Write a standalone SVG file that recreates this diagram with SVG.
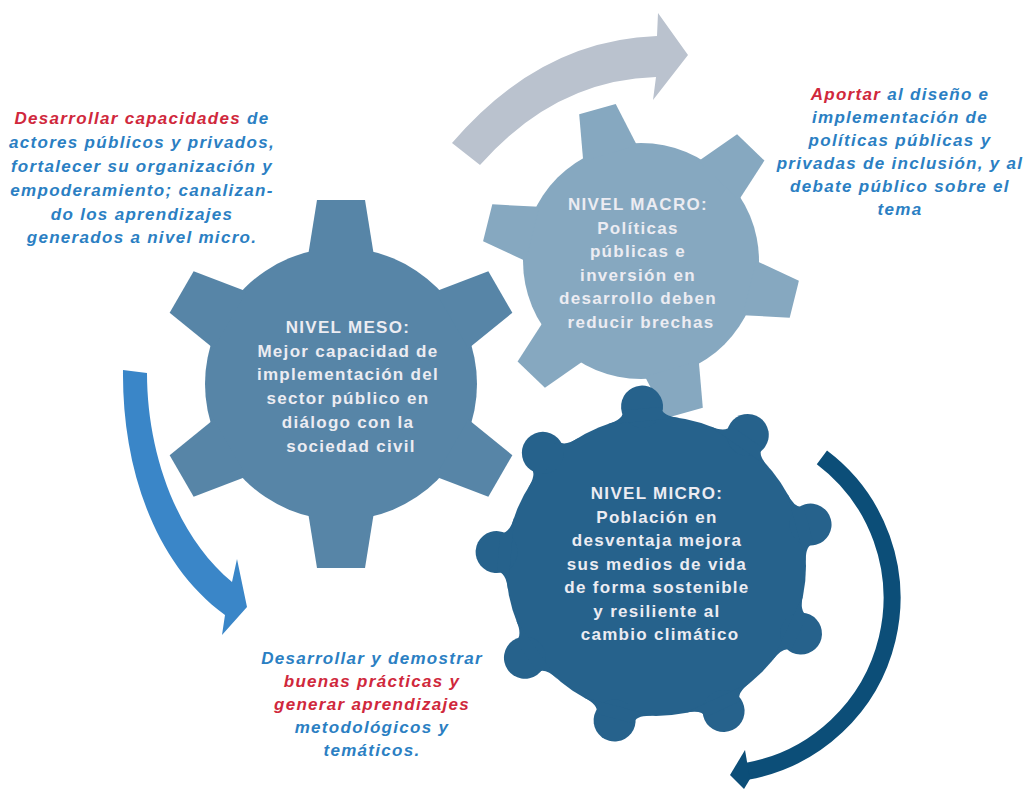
<svg xmlns="http://www.w3.org/2000/svg" xmlns:xlink="http://www.w3.org/1999/xlink" width="1027" height="789" viewBox="0 0 1027 789">
<style>
.gt{font-family:"Liberation Sans",Arial,sans-serif;font-weight:bold;font-size:17px;letter-spacing:1.3px;fill:#ECECF2;text-anchor:middle}
.st{font-family:"Liberation Sans",Arial,sans-serif;font-weight:bold;font-style:italic;font-size:17px;letter-spacing:1.3px;fill:#2B7FC3;text-anchor:middle}
.red{fill:#D0283C}
.meso{fill:#5785A7}
.macro{fill:#86A8C0}
.micro{fill:#26628C}
</style>
<defs>
<polygon id="mesoTooth" points="-24,-184 24,-184 33,-128 -33,-128"/>
<polygon id="macroTooth" points="-19,-158 19,-158 28,-112 -28,-112"/>
<g id="microTooth">
<circle cx="0" cy="-160" r="21"/>
<path d="M-36,-145.5 Q-19,-149 -19,-158 L19,-158 Q19,-149 36,-145.5 Z"/>
</g>
</defs>
<rect width="1027" height="789" fill="#FFFFFF"/>

<g id="connectors">
<path id="arrow-top" fill="#BAC2CE" d="M452,143 Q540,40 657,36 L658,13 L688,55 L653,100 L656,77 Q555,80 480,165 Z"/>
<path id="arrow-left" fill="#3A86C8" d="M123,370 L147,373 C147,450 175,535 232,582 L237,559 L247,607 L222,635 L225,615 C150,560 122,460 123,370 Z"/>
<g id="arrow-right">
<path d="M821.9,457.4 A176,176 0 0 1 746.6,771.3" fill="none" stroke="#0C4E78" stroke-width="17"/>
<polygon points="745,750 730,775 744,789 750,779" fill="#0C4E78"/>
</g>
</g>

<g id="node-macro">
<g class="macro" transform="translate(641,261)">
<circle r="118"/>
<use xlink:href="#macroTooth" href="#macroTooth" transform="rotate(-16)"/>
<use xlink:href="#macroTooth" href="#macroTooth" transform="rotate(44)"/>
<use xlink:href="#macroTooth" href="#macroTooth" transform="rotate(104)"/>
<use xlink:href="#macroTooth" href="#macroTooth" transform="rotate(164)"/>
<use xlink:href="#macroTooth" href="#macroTooth" transform="rotate(224)"/>
<use xlink:href="#macroTooth" href="#macroTooth" transform="rotate(284)"/>
</g>
<text class="gt">
<tspan x="641" y="210">NIVEL MACRO:</tspan>
<tspan x="641" y="233.6">Políticas</tspan>
<tspan x="641" y="257.2">públicas e</tspan>
<tspan x="641" y="280.8">inversión en</tspan>
<tspan x="641" y="304.4">desarrollo deben</tspan>
<tspan x="641" y="328">reducir brechas</tspan>
</text>
</g>

<g id="node-meso">
<g class="meso" transform="translate(341,384)">
<circle r="136"/>
<use xlink:href="#mesoTooth" href="#mesoTooth"/>
<use xlink:href="#mesoTooth" href="#mesoTooth" transform="rotate(60)"/>
<use xlink:href="#mesoTooth" href="#mesoTooth" transform="rotate(120)"/>
<use xlink:href="#mesoTooth" href="#mesoTooth" transform="rotate(180)"/>
<use xlink:href="#mesoTooth" href="#mesoTooth" transform="rotate(240)"/>
<use xlink:href="#mesoTooth" href="#mesoTooth" transform="rotate(300)"/>
</g>
<text class="gt">
<tspan x="351" y="333">NIVEL MESO:</tspan>
<tspan x="351" y="356.7">Mejor capacidad de</tspan>
<tspan x="351" y="380.4">implementación del</tspan>
<tspan x="351" y="404.1">sector público en</tspan>
<tspan x="351" y="427.8">diálogo con la</tspan>
<tspan x="351" y="451.5">sociedad civil</tspan>
</text>
</g>

<g id="node-micro">
<g class="micro" transform="translate(656,566)">
<circle r="150"/>
<use xlink:href="#microTooth" href="#microTooth" transform="rotate(-5)"/>
<use xlink:href="#microTooth" href="#microTooth" transform="rotate(35)"/>
<use xlink:href="#microTooth" href="#microTooth" transform="rotate(75)"/>
<use xlink:href="#microTooth" href="#microTooth" transform="rotate(115)"/>
<use xlink:href="#microTooth" href="#microTooth" transform="rotate(155)"/>
<use xlink:href="#microTooth" href="#microTooth" transform="rotate(195)"/>
<use xlink:href="#microTooth" href="#microTooth" transform="rotate(235)"/>
<use xlink:href="#microTooth" href="#microTooth" transform="rotate(275)"/>
<use xlink:href="#microTooth" href="#microTooth" transform="rotate(315)"/>
</g>
<text class="gt">
<tspan x="660" y="499">NIVEL MICRO:</tspan>
<tspan x="660" y="522.5">Población en</tspan>
<tspan x="660" y="546">desventaja mejora</tspan>
<tspan x="660" y="569.5">sus medios de vida</tspan>
<tspan x="660" y="593">de forma sostenible</tspan>
<tspan x="660" y="616.5">y resiliente al</tspan>
<tspan x="660" y="640">cambio climático</tspan>
</text>
</g>

<g id="note-meso">
<text class="st" x="142" y="124"><tspan class="red">Desarrollar capacidades</tspan> de</text>
<text class="st" x="142" y="148">actores públicos y privados,</text>
<text class="st" x="142" y="172">fortalecer su organización y</text>
<text class="st" x="142" y="196">empoderamiento; canalizan-</text>
<text class="st" x="142" y="219.5">do los aprendizajes</text>
<text class="st" x="142" y="243">generados a nivel micro.</text>
</g>

<g id="note-macro">
<text class="st" x="900" y="100"><tspan class="red">Aportar</tspan> al diseño e</text>
<text class="st" x="900" y="123">implementación de</text>
<text class="st" x="900" y="146">políticas públicas y</text>
<text class="st" x="900" y="169">privadas de inclusión, y al</text>
<text class="st" x="900" y="192">debate público sobre el</text>
<text class="st" x="900" y="215">tema</text>
</g>

<g id="note-micro">
<text class="st" x="372" y="664">Desarrollar y demostrar</text>
<text class="st red" x="372" y="687">buenas prácticas y</text>
<text class="st red" x="372" y="710">generar aprendizajes</text>
<text class="st" x="372" y="733">metodológicos y</text>
<text class="st" x="372" y="756">temáticos.</text>
</g>
</svg>
